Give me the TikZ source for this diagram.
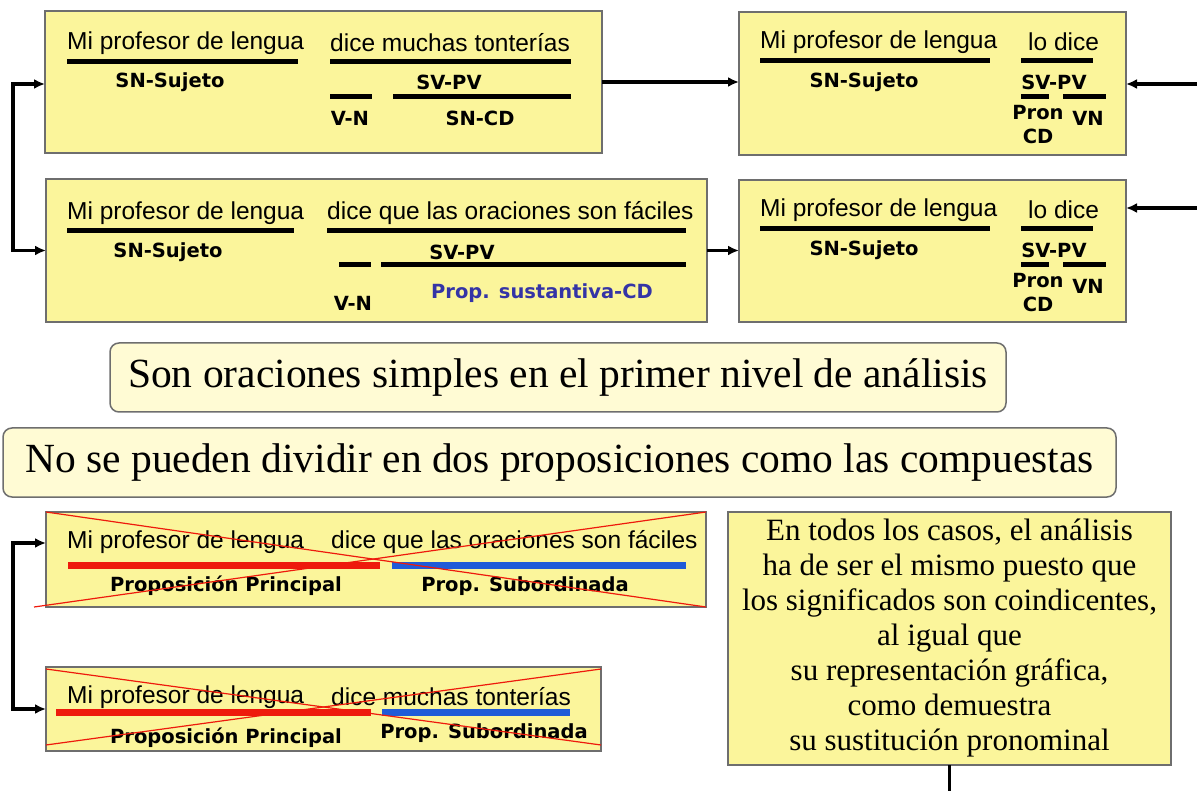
\documentclass[tikz,border=0pt]{standalone}
\usepackage{fontspec}
\setmainfont{Liberation Serif}
\newfontfamily\phrasefont{Liberation Sans}
\newfontfamily\tagfont{DejaVu Sans}
\usetikzlibrary{positioning}
\usetikzlibrary{arrows.meta}

\definecolor{panelyellow}{HTML}{FBF59B}
\definecolor{bannercream}{HTML}{FFFBD4}
\definecolor{panelgray}{HTML}{6E6E6E}
\definecolor{mainred}{HTML}{EE1A0C}
\definecolor{subblue}{HTML}{1F5BD8}
\definecolor{cdblue}{HTML}{3434A6}

\begin{document}
\begin{tikzpicture}[
        x = 1pt, y = -1pt,
        >={Latex[length=11pt, width=10pt]},
        panel/.style = {
            draw = panelgray,
            fill = panelyellow,
            line width = 1.5pt,
            inner sep = 0pt,
            outer sep = 0pt
        },
        banner/.style = {panel, fill=bannercream, rounded corners=9pt},
        phrase/.style = {anchor=west, inner sep=0pt, font=\phrasefont\fontsize{24.5}{28}\selectfont},
        tag/.style = {inner sep=0pt, font=\tagfont\bfseries\fontsize{19.5}{22}\selectfont},
        ubar/.style = {line width=5pt},
        pbar/.style = {line width=7pt},
        strike/.style = {mainred, line width=1.2pt},
        conn/.style = {line width=3.5pt}
        ]
        \useasboundingbox (0,0) rectangle (1197,791);
%
        \node[panel, minimum width=557pt, minimum height=142pt] (A) at (323.5,82) {};
        \node[panel, minimum width=387pt, minimum height=143pt] (B) at (932.5,83.5) {};
        \node[panel, minimum width=661pt, minimum height=143pt] (C) at (376.5,250.5) {};
        \node[panel, minimum width=387pt, minimum height=142pt] (D) at (932.5,251) {};
        \node[banner, minimum width=896pt, minimum height=69pt] (E) at (558,377.5) {};
        \node[banner, minimum width=1113pt, minimum height=69pt] (F) at (559.5,462.5) {};
        \node[panel, minimum width=660pt, minimum height=95pt] (G) at (376,559.5) {};
        \node[panel, minimum width=555pt, minimum height=84pt] (H) at (323.5,709) {};
        \node[panel, minimum width=443pt, minimum height=253pt] (I) at (949.5,638.5) {};
%
% first sentence
        \node[phrase] (a1) at (67,43) {Mi profesor de lengua};
        \node[phrase] (a2) at (330,43) {dice muchas tonterías};
        \draw[ubar] (67,62) -- (298,62);
        \draw[ubar] (330,62) -- (571,62);
        \node[tag] (a3) at (170,82) {SN-Sujeto};
        \node[tag] (a4) at (449,82) {SV-PV};
        \draw[ubar] (330,97) -- (372,97);
        \draw[ubar] (393,97) -- (571,97);
        \node[tag] (a5) at (350,118) {V-N};
        \node[tag] (a6) at (480,118) {SN-CD};
%
        \node[phrase] (b1) at (760,42) {Mi profesor de lengua};
        \node[phrase] (b2) at (1028,42) {lo dice};
        \draw[ubar] (760,61) -- (990,61);
        \draw[ubar] (1021,61) -- (1093,61);
        \node[tag] (b3) at (864,82) {SN-Sujeto};
        \node[tag] (b4) at (1054,82) {SV-PV};
        \draw[ubar] (1021,97) -- (1049,97);
        \draw[ubar] (1063,97) -- (1106,97);
        \node[tag] (b5) at (1038,113) {Pron};
        \node[tag] (b6) at (1088,118) {VN};
        \node[tag] (b7) at (1038,136) {CD};
%
% second sentence
        \node[phrase] (c1) at (67,213) {Mi profesor de lengua};
        \node[phrase] (c2) at (327,213) {dice que las oraciones son fáciles};
        \draw[ubar] (67,231) -- (294,231);
        \draw[ubar] (327,231) -- (686,231);
        \node[tag] (c3) at (168,252) {SN-Sujeto};
        \node[tag] (c4) at (462,252) {SV-PV};
        \draw[ubar] (339,265) -- (371,265);
        \draw[ubar] (381,265) -- (686,265);
        \node[tag] (c5) at (353,303) {V-N};
        \node[tag, cdblue] (c6) at (542,293) {Prop. sustantiva-CD};
%
        \node[phrase] (d1) at (760,210) {Mi profesor de lengua};
        \node[phrase] (d2) at (1028,210) {lo dice};
        \draw[ubar] (760,229) -- (990,229);
        \draw[ubar] (1021,229) -- (1093,229);
        \node[tag] (d3) at (864,250) {SN-Sujeto};
        \node[tag] (d4) at (1054,250) {SV-PV};
        \draw[ubar] (1021,265) -- (1049,265);
        \draw[ubar] (1063,265) -- (1106,265);
        \node[tag] (d5) at (1038,281) {Pron};
        \node[tag] (d6) at (1088,286) {VN};
        \node[tag] (d7) at (1038,304) {CD};
%
% banners
        \node[font=\fontsize{41.5}{45}\selectfont] (e1) at (E) {Son oraciones simples en el primer nivel de análisis};
        \node[font=\fontsize{41.5}{45}\selectfont] (f1) at (F) {No se pueden dividir en dos proposiciones como las compuestas};
%
% crossed out
        \node[phrase] (g1) at (67,542) {Mi profesor de lengua};
        \node[phrase] (g2) at (331,542) {dice que las oraciones son fáciles};
        \draw[pbar, mainred] (68,565) -- (380,565);
        \draw[pbar, subblue] (392,565) -- (686,565);
        \node[tag] (g3) at (226,586) {Proposición Principal};
        \node[tag] (g4) at (525,586) {Prop. Subordinada};
        \draw[strike] (G.north west) -- (G.south east);
        \draw[strike] ([xshift=-12pt]G.south west) -- (G.north east);
%
        \node[phrase] (h1) at (67,697) {Mi profesor de lengua};
        \node[phrase] (h2) at (331,697) {dice muchas tonterías};
        \draw[pbar, mainred] (56,712) -- (371,712);
        \draw[pbar, subblue] (382,712) -- (570,712);
        \node[tag] (h3) at (226,738) {Proposición Principal};
        \node[tag] (h4) at (484,733) {Prop. Subordinada};
        \draw[strike] ([yshift=-2pt]H.north west) -- ([yshift=6pt]H.south east);
        \draw[strike] ([yshift=6pt]H.south west) -- ([yshift=-2pt]H.north east);
%
        \node[align=center, font=\fontsize{31}{35}\selectfont] (i1) at (I) {En todos los casos, el análisis\\ha de ser el mismo puesto que\\los significados son coindicentes,\\al igual que\\su representación gráfica,\\como demuestra\\su sustitución pronominal};
%
% connectors
        \coordinate (lk) at (13,84);
        \coordinate (gk) at (13,543);
        \coordinate (rb) at (1197,84);
        \coordinate (rd) at (1197,208);
        \coordinate (ib) at (948,791);
%
        \draw[conn, <->] (A.west |- lk) -- (lk) |- (C.west);
        \draw[conn, <->] (G.west |- gk) -- (gk) |- (H.west);
        \draw[conn, ->] (A.east) -- (A.east -| B.west);
        \draw[conn, ->] (C.east) -- (C.east -| D.west);
        \draw[conn, ->] (rb) -- (rb -| B.east);
        \draw[conn, ->] (rd) -- (rd -| D.east);
        \draw[conn] (I.south) -- (I.south |- ib);
    \end{tikzpicture}
\end{document}
